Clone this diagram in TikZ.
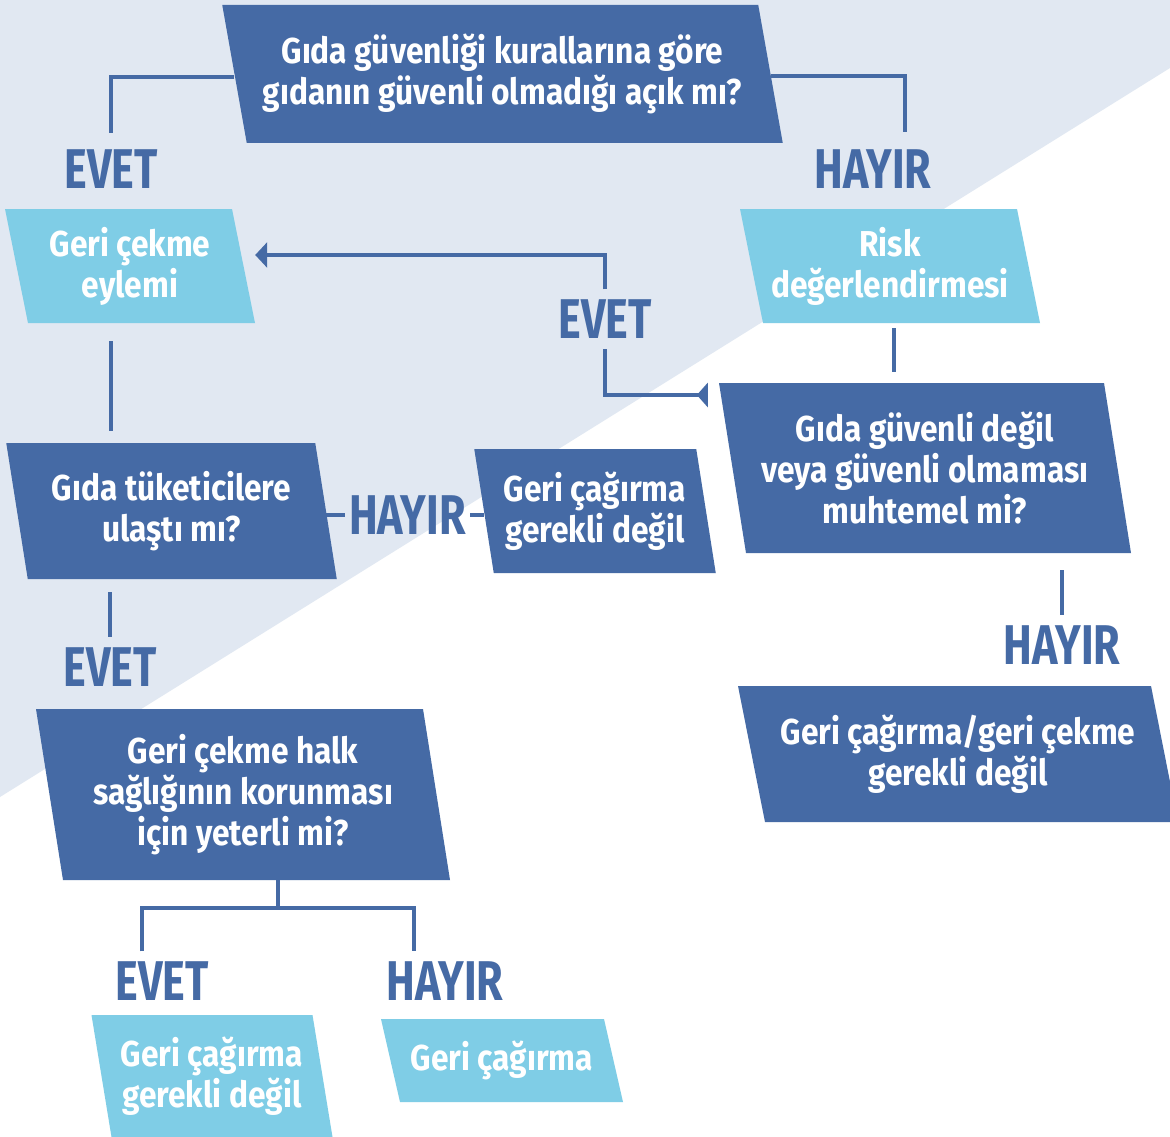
\documentclass[tikz,border=0pt]{standalone}
\usepackage{fontspec}
\setmainfont{Fira Sans}[FakeStretch=0.77]
\newfontfamily\boxfont{Fira Sans}[FakeStretch=0.88]
\usetikzlibrary{arrows.meta,calc}
\definecolor{dkblue}{HTML}{456AA5}
\definecolor{ltblue}{HTML}{7FCDE6}
\definecolor{bgblue}{HTML}{E1E8F2}
\tikzset{
  boxtext/.style={inner sep=0pt, align=center, text=white,
    font=\boxfont\fontsize{36}{41}\selectfont\bfseries},
  lbl/.style={text=dkblue, font=\fontsize{56}{56}\selectfont\bfseries,
    text height=39pt, text depth=0pt, inner xsep=4pt, inner ysep=10pt},
  conn/.style={draw=dkblue, line width=3.5pt},
}
% \pbox{name}{cx}{cy}{top edge length}{height}{slant offset}{colour}{text}
\newcommand\pbox[8]{%
  \fill[#7] ({#2-#4/2-#6/2},{#3-#5/2}) -- ++(#4,0) -- ++(#6,#5) -- ++(-#4,0) -- cycle;
  \node[boxtext, minimum width=#4pt, minimum height=#5pt] (#1) at (#2,#3) {#8};}
\begin{document}
\begin{tikzpicture}[x=1pt,y=-1pt]
\useasboundingbox (0,0) rectangle (1170,1137);
\clip (0,0) rectangle (1170,1137);
\fill[white] (0,0) rectangle (1170,1137);
\fill[bgblue] (0,0) -- (1170,0) -- (1170,68) -- (0,797) -- cycle;

% boxes
\pbox{top}{502.5}{74}{536}{138}{24.5}{dkblue}{Gıda güvenliği kurallarına göre\\gıdanın güvenli olmadığı açık mı?}
\pbox{eylem}{130}{266}{227}{114}{23}{ltblue}{Geri çekme\\eylemi}
\pbox{risk}{890}{266}{277}{114}{23}{ltblue}{Risk\\değerlendirmesi}
\pbox{tuk}{171.5}{511}{309}{136}{21.5}{dkblue}{Gıda tüketicilere\\ulaştı mı?}
\pbox{gerek}{595}{511}{222}{124}{19.5}{dkblue}{Geri çağırma\\gerekli değil}
\pbox{guv}{925}{468}{385}{170}{27}{dkblue}{Gıda güvenli değil\\veya güvenli olmaması\\muhtemel mi?}
\pbox{nogerek}{958}{754}{413}{136}{27}{dkblue}{Geri çağırma/geri çekme\\gerekli değil}
\pbox{halk}{243}{794.5}{387}{171}{27}{dkblue}{Geri çekme halk\\sağlığının korunması\\için yeterli mi?}
\pbox{gerektwo}{212}{1076}{221}{122}{20}{ltblue}{Geri çağırma\\gerekli değil}
\pbox{cagir}{502}{1060.5}{223}{83}{19}{ltblue}{Geri çağırma}

% labels
\node[lbl] (e1) at (111,168.5) {EVET};
\node[lbl] (h1) at (873,168.5) {HAYIR};
\node[lbl] (e2) at (605,319) {EVET};
\node[lbl] (h2) at (407.5,515) {HAYIR};
\node[lbl] (h3) at (1062,645) {HAYIR};
\node[lbl] (e3) at (110,666.5) {EVET};
\node[lbl] (e4) at (162,981) {EVET};
\node[lbl] (h4) at (445,981) {HAYIR};

% connectors
\draw[conn] ([yshift=-3pt]top.west) -| ([yshift=6pt]e1.north);
\draw[conn] ([yshift=-2pt]top.east) -| ([xshift=32pt,yshift=7pt]h1.north);
\draw[conn, shorten <=18pt, shorten >=12pt] (e1.south |- eylem.south) -- (e1.south |- tuk.north);
\draw[conn, shorten <=13pt] (e3.north |- tuk.south) -- (e3.north);
\draw[conn] (h2.west -| tuk.east) -- (h2.west);
\draw[conn] (h2.east) -- (h2.east -| gerek.west);
\draw[conn, {Triangle[reversed,length=11pt,width=24pt]}-] ([xshift=-24.5pt,yshift=73pt]guv.west) -| (e2.south);
\draw[conn, -{Triangle[length=12pt,width=25pt]}] (e2.north) |- ([xshift=11.5pt,yshift=11pt]eylem.east);
\draw[conn, shorten <=5pt, shorten >=11pt] ([xshift=4pt]risk.south) -- ([xshift=4pt]risk.south |- guv.north);
\draw[conn, shorten <=17pt] (h3.north |- guv.south) -- (h3.north);
\draw[conn] ([xshift=35pt]halk.south) -- ++(0,28) coordinate (split);
\draw[conn] ([xshift=-20pt]e4.north) |- (split) -| ([xshift=-31pt]h4.north);
\end{tikzpicture}
\end{document}
